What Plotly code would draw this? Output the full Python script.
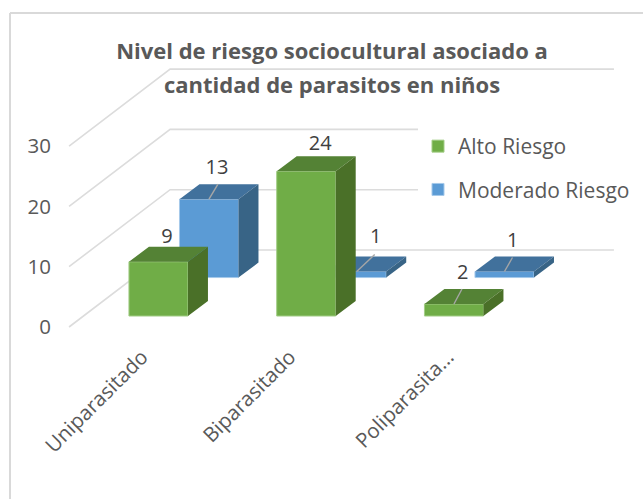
import plotly.graph_objects as go

# ---- data ----
categories = ["Uniparasitado", "Biparasitado", "Poliparasita..."]
alto = [9, 24, 2]
moderado = [13, 1, 1]
y_ticks = [0, 10, 20, 30]
title_lines = ["Nivel de riesgo sociocultural asociado a", "cantidad de parasitos en niños"]

# ---- projection of the 3D chart onto axis units (x: category, y: value) ----
PXX, PXY = 147.75, 6.03
BAR_W = 59 / PXX
DEPTH_X, DEPTH_Y = 20 / PXX, 15 / PXY
WALL_X0, WALL_X1, WALL_X2 = -0.514, 0.17, 3.174
WALL_DY = 77 / PXY
GREEN_DX, GREEN_BASE = 0.091, 1.82
BLUE_DX, BLUE_BASE = 0.433, 8.2
GREEN = ("#70ad47", "#548235", "#4a7028", "#a3cd87")
BLUE = ("#5b9bd5", "#41719c", "#386486", "#a5c9ea")
GRID = "#dcdcdc"
TEXT = "#595959"
FONT = "Open Sans"
X_PIX0, PLOT_L, PLOT_B = 145, 52, 340
Y_PIX0 = 327
W, H = 643, 499
PW = W - PLOT_L
TICK_NUDGE = [-0.02, -0.02, 0.05]

fig = go.Figure()


def bars(name, vals, dx, base, cols, z):
    xs = [i + dx for i in range(len(vals))]
    fig.add_trace(go.Bar(x=xs, y=vals, base=[base] * len(vals), width=BAR_W, name=name,
                         legendgroup=name, zorder=z, hoverinfo="skip",
                         marker=dict(color=cols[0], line=dict(color=cols[3], width=1))))
    top_x, top_y, side_x, side_y = [], [], [], []
    for x, v in zip(xs, vals):
        l, r, t = x - BAR_W / 2, x + BAR_W / 2, base + v
        top_x += [l, r, r + DEPTH_X, l + DEPTH_X, l, None]
        top_y += [t, t, t + DEPTH_Y, t + DEPTH_Y, t, None]
        side_x += [r, r + DEPTH_X, r + DEPTH_X, r, r, None]
        side_y += [t, t + DEPTH_Y, base + DEPTH_Y, base, t, None]
    for px, py, c in ((top_x, top_y, cols[1]), (side_x, side_y, cols[2])):
        fig.add_trace(go.Scatter(x=px, y=py, mode="none", fill="toself", fillcolor=c,
                                 showlegend=False, hoverinfo="skip", zorder=z + 1))


# wall gridlines
wx, wy = [], []
for t in y_ticks:
    wx += [WALL_X0, WALL_X1, WALL_X2, None]
    wy += [t, t + WALL_DY, t + WALL_DY, None]
fig.add_trace(go.Scatter(x=wx, y=wy, mode="lines", line=dict(color=GRID, width=1.6),
                         showlegend=False, hoverinfo="skip", zorder=0))

bars("Alto Riesgo", alto, GREEN_DX, GREEN_BASE, GREEN, 4)
bars("Moderado Riesgo", moderado, BLUE_DX, BLUE_BASE, BLUE, 1)

# data labels and leader lines
label_x = [GREEN_DX + 0.058, 1 + GREEN_DX + 0.095, 2 + GREEN_DX + 0.06,
           BLUE_DX + 0.054, 1 + BLUE_DX + 0.128, 2 + BLUE_DX + 0.056]
label_y = [GREEN_BASE + alto[0] + 4.0, GREEN_BASE + alto[1] + 4.4, GREEN_BASE + alto[2] + 5.0,
           BLUE_BASE + moderado[0] + 5.0, BLUE_BASE + moderado[1] + 5.6, BLUE_BASE + moderado[2] + 4.9]
label_t = alto + moderado
fig.add_trace(go.Scatter(x=label_x, y=label_y, mode="text", text=[str(v) for v in label_t],
                         textposition="middle center",
                         textfont=dict(family=FONT, size=20, color="#404040"),
                         showlegend=False, hoverinfo="skip", zorder=6))

lx, ly = [], []
for dx, base, v, cat, run, rise in [(GREEN_DX, GREEN_BASE, alto[2], 2, 8, 15),
                                    (BLUE_DX, BLUE_BASE, moderado[0], 0, 9, 15),
                                    (BLUE_DX, BLUE_BASE, moderado[1], 1, 18, 17),
                                    (BLUE_DX, BLUE_BASE, moderado[2], 2, 8, 14)]:
    x = cat + dx
    lx += [x, x + run / PXX, None]
    ly += [base + v, base + v + rise / PXY, None]
fig.add_trace(go.Scatter(x=lx, y=ly, mode="lines", line=dict(color="#a6a6a6", width=1.4),
                         showlegend=False, hoverinfo="skip", zorder=5))

fig.update_layout(
    width=W, height=H, autosize=False,
    paper_bgcolor="white", plot_bgcolor="white",
    margin=dict(l=PLOT_L, r=0, t=0, b=H - PLOT_B, pad=0),
    barmode="overlay",
    title=dict(text=title_lines[0], x=332 / W, xanchor="center", y=1 - 51 / H, yanchor="middle",
               font=dict(family=FONT, size=22, color=TEXT, weight="bold")),
    annotations=[dict(text="<b>%s</b>" % title_lines[1], xref="paper", yref="paper",
                      x=(332 - PLOT_L) / PW, y=(PLOT_B - 84) / PLOT_B,
                      xanchor="center", yanchor="middle", showarrow=False,
                      font=dict(family=FONT, size=22, color=TEXT))],
    xaxis=dict(range=[(PLOT_L - X_PIX0) / PXX, (W - X_PIX0) / PXX],
               tickmode="array", tickvals=[i + n for i, n in enumerate(TICK_NUDGE)], ticktext=categories,
               tickangle=-45, showgrid=False, zeroline=False, showline=False, ticks="",
               tickfont=dict(family=FONT, size=20.5, color=TEXT)),
    yaxis=dict(range=[(Y_PIX0 - PLOT_B) / PXY, Y_PIX0 / PXY],
               tickmode="array", tickvals=y_ticks, showgrid=False, zeroline=False,
               showline=False, ticks="",
               tickfont=dict(family=FONT, size=20.5, color=TEXT)),
    legend=dict(x=(418 - PLOT_L) / PW, y=(PLOT_B - 126) / PLOT_B, xref="paper", yref="paper",
                xanchor="left", yanchor="top",
                bgcolor="white", borderwidth=0, traceorder="grouped", tracegroupgap=13,
                font=dict(family=FONT, size=21, color=TEXT)),
    shapes=[dict(type="line", xref="paper", yref="paper", x0=-42 / PW, x1=1,
                 y0=(PLOT_B - 13) / PLOT_B, y1=(PLOT_B - 13) / PLOT_B,
                 line=dict(color="#d9d9d9", width=2), layer="below"),
            dict(type="line", xref="paper", yref="paper", x0=-42 / PW, x1=-42 / PW,
                 y0=(PLOT_B - 13) / PLOT_B, y1=(PLOT_B - H) / PLOT_B,
                 line=dict(color="#d9d9d9", width=2), layer="below")],
)

fig.write_html("out.html", config={"displayModeBar": False},
               post_script="document.body.style.margin='0';document.documentElement.style.overflow='hidden';")
